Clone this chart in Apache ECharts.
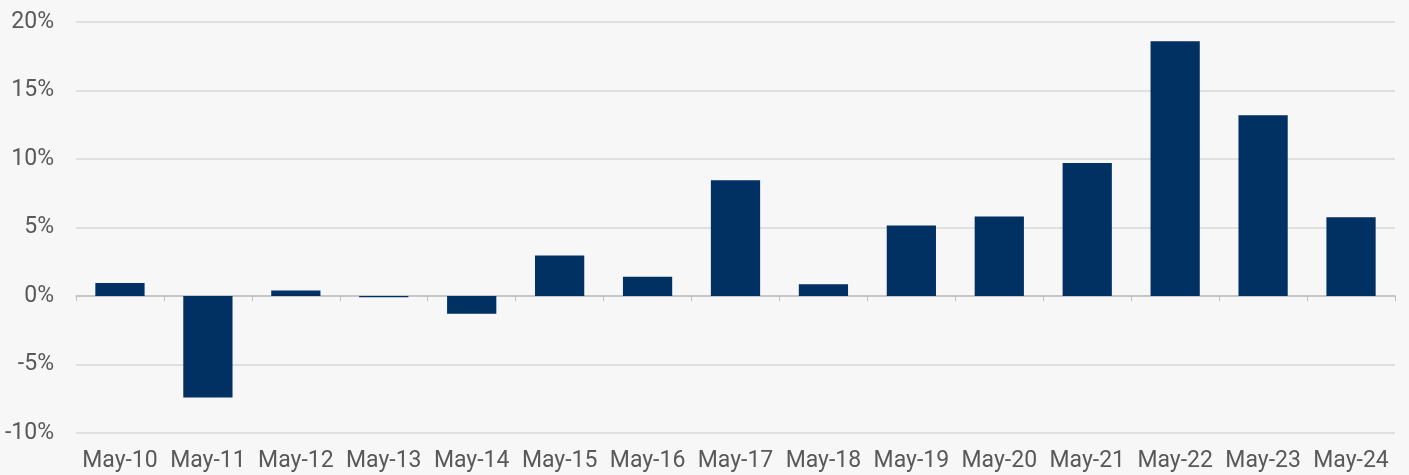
<!DOCTYPE html>
<html>
<head>
<meta charset="utf-8">
<script src="https://cdn.jsdelivr.net/npm/echarts@6/dist/echarts.min.js"></script>
<style>
html,body{margin:0;padding:0;background:#f7f7f7;}
#chart{width:1409px;height:475px;}
</style>
</head>
<body>
<div id="chart"></div>
<script>
const categories = ['May-10','May-11','May-12','May-13','May-14','May-15','May-16','May-17','May-18','May-19','May-20','May-21','May-22','May-23','May-24'];
const values = [0.95, -7.4, 0.4, -0.1, -1.3, 2.95, 1.4, 8.45, 0.85, 5.15, 5.8, 9.7, 18.6, 13.2, 5.75];
const yTicks = {min: -10, max: 20, interval: 5};

const chart = echarts.init(document.getElementById('chart'), null, {renderer: 'canvas'});
const labelFont = {color: '#595959', fontSize: 23, fontFamily: 'Roboto'};
chart.setOption({
  backgroundColor: '#f7f7f7',
  animation: false,
  grid: {left: 76, right: 14, top: 22, bottom: 42, containLabel: false},
  xAxis: [{
    type: 'category',
    data: categories,
    axisLine: {onZero: true, lineStyle: {color: '#bfbfbf', width: 1.5}},
    axisTick: {show: true, length: 5, interval: 0, lineStyle: {color: '#bfbfbf'}},
    axisLabel: {show: false}
  }, {
    type: 'category',
    data: categories,
    position: 'bottom',
    axisLine: {show: false, onZero: false},
    axisTick: {show: false},
    axisLabel: Object.assign({margin: 17, interval: 0, hideOverlap: false}, labelFont)
  }],
  yAxis: {
    type: 'value',
    min: yTicks.min, max: yTicks.max, interval: yTicks.interval,
    axisLine: {show: false},
    axisTick: {show: false},
    splitLine: {lineStyle: {color: '#d9d9d9', width: 1.5}},
    axisLabel: Object.assign({margin: 22, formatter: v => v + '%'}, labelFont)
  },
  series: [{
    type: 'bar',
    xAxisIndex: 0,
    data: values,
    barWidth: '56%',
    itemStyle: {color: '#003162'}
  }]
});
</script>
</body>
</html>
